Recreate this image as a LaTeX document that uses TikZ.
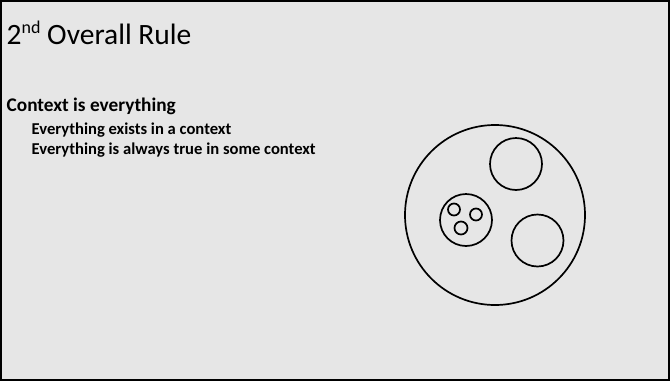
\documentclass[tikz,border=0pt]{standalone}
\usepackage{fontspec}
\setmainfont{Carlito}
\definecolor{slidebg}{HTML}{E6E6E6}
\newcommand{\supnd}{\raisebox{0.36em}{\fontsize{18}{18}\selectfont nd}}
\begin{document}
\begin{tikzpicture}[x=1pt,y=-1pt,
  ring/.style={circle,draw=black,line width=1.7pt,inner sep=0pt,minimum size=#1},
  title/.style={anchor=base west,inner sep=0pt,font=\fontsize{29.5}{34}\selectfont},
  lvlone/.style={anchor=base west,inner sep=0pt,font=\fontsize{19.3}{22}\selectfont\bfseries},
  lvltwo/.style={anchor=base west,inner sep=0pt,font=\fontsize{16.6}{19}\selectfont\bfseries}]
\useasboundingbox (0,0) rectangle (670,381);
\fill[slidebg] (0,0) rectangle (670,381);
\draw[line width=2pt] (1,1) rectangle (669,380);
\node[title] (t) at (6.5,44.5) {2\supnd{} Overall Rule};
\node[lvlone] (l1) at (6.5,111.5) {Context is everything};
\node[lvltwo] (l2) at (31.5,134) {Everything exists in a context};
\node[lvltwo] (l3) at (31.5,154.5) {Everything is always true in some context};
\node[ring=180pt] (big) at (495,215) {};
\node[ring=52pt] (top) at (516,164) {};
\node[ring=52pt] (right) at (537.5,240.5) {};
\node[ring=52pt] (group) at (466,220) {};
\node[ring=12pt] (s1) at (454,209.5) {};
\node[ring=12pt] (s2) at (476,214.5) {};
\node[ring=13pt] (s3) at (461,228) {};
\end{tikzpicture}
\end{document}
